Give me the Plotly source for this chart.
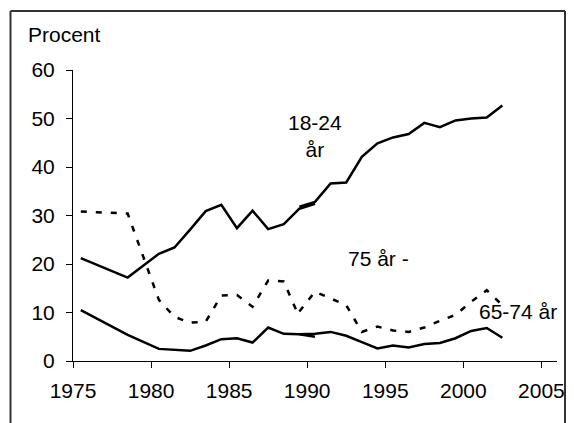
import plotly.graph_objects as go

# ---- data ----
years_old = [1975.5, 1978.5, 1980.5, 1981.5, 1982.5, 1983.5, 1984.5, 1985.5,
             1986.5, 1987.5, 1988.5, 1989.5, 1990.5]
years_new = [1989.5, 1990.5, 1991.5, 1992.5, 1993.5, 1994.5, 1995.5, 1996.5,
             1997.5, 1998.5, 1999.5, 2000.5, 2001.5, 2002.5]
years_old_75 = years_old[:-1]

age_18_24_old = [21.2, 17.2, 22.1, 23.4, 27.1, 30.9, 32.2, 27.4, 31.0, 27.2, 28.2, 31.4, 32.4]
age_18_24_new = [31.8, 32.8, 36.6, 36.8, 42.1, 44.9, 46.1, 46.8, 49.1, 48.2, 49.6, 50.0, 50.2, 52.7]

age_65_74_old = [10.5, 5.4, 2.5, 2.3, 2.1, 3.2, 4.5, 4.7, 3.8, 6.9, 5.6, 5.5, 5.0]
age_65_74_new = [5.5, 5.6, 6.0, 5.2, 3.9, 2.6, 3.2, 2.8, 3.5, 3.7, 4.7, 6.2, 6.8, 4.8]

age_75_old = [30.8, 30.4, 12.6, 9.1, 7.9, 8.1, 13.5, 13.6, 11.2, 16.6, 16.4, 9.0]
age_75_new = [10.2, 14.3, 12.9, 11.5, 6.0, 7.1, 6.3, 6.0, 6.9, 8.3, 9.5, 12.2, 14.6, 11.5]

x_ticks = [1975, 1980, 1985, 1990, 1995, 2000, 2005]
y_ticks = [0, 10, 20, 30, 40, 50, 60]

FONT = "Liberation Sans, Arial, sans-serif"
W, H = 574, 423

fig = go.Figure()
solid = dict(color="black", width=2.5)
dashed = dict(color="black", width=2.5, dash="6px,9px")

fig.add_trace(go.Scatter(x=years_old, y=age_18_24_old, mode="lines", line=solid))
fig.add_trace(go.Scatter(x=years_new, y=age_18_24_new, mode="lines", line=solid))
fig.add_trace(go.Scatter(x=years_old, y=age_65_74_old, mode="lines", line=solid))
fig.add_trace(go.Scatter(x=years_new, y=age_65_74_new, mode="lines", line=solid))
fig.add_trace(go.Scatter(x=years_old_75, y=age_75_old, mode="lines", line=dashed))
fig.add_trace(go.Scatter(x=years_new, y=age_75_new, mode="lines", line=dashed))

axis_common = dict(showgrid=False, zeroline=False, showline=True, linecolor="black",
                   linewidth=1, ticks="outside", ticklen=6, tickcolor="black",
                   automargin=False,
                   tickfont=dict(family=FONT, size=21, color="black"))

# page has an 8px body margin, so figure px = page px - 8
fig.update_xaxes(range=[1975, 2006], tickvals=x_ticks, ticktext=[str(v) for v in x_ticks],
                 domain=[65 / W, 549 / W], ticklabelstandoff=5, **axis_common)
fig.update_yaxes(range=[0, 60], tickvals=y_ticks, ticktext=[str(v) for v in y_ticks],
                 domain=[(H - 353) / H, (H - 62) / H], ticklabelstandoff=7, **axis_common)

text_font = dict(family=FONT, size=21, color="black")
fig.add_annotation(x=1990.5, y=46.4, text="18-24<br>år", showarrow=False,
                   font=text_font, xanchor="center", yanchor="middle")
fig.add_annotation(x=1994.55, y=21.2, text="75 år -", showarrow=False,
                   font=text_font, xanchor="center", yanchor="middle")
fig.add_annotation(x=2003.53, y=10.3, text="65-74 år", showarrow=False,
                   font=text_font, xanchor="center", yanchor="middle")
fig.add_annotation(x=18 / W, y=(H - 27) / H, xref="paper", yref="paper", text="Procent",
                   showarrow=False, font=text_font, xanchor="left", yanchor="middle")

# outer frame (four lines)
fx0, fx1 = 2.5 / W, 557 / W
fy0, fy1 = 0.0, (H - 3) / H
frame = dict(color="#333333", width=2)
for (a, b, c, d) in [(fx0, fy1, fx1, fy1), (fx0, fy0, fx0, fy1), (fx1, fy0, fx1, fy1)]:
    fig.add_shape(type="line", xref="paper", yref="paper", x0=a, y0=b, x1=c, y1=d,
                  line=frame, layer="above")

fig.update_layout(width=W, height=H, showlegend=False,
                  margin=dict(l=0, r=0, t=0, b=0, pad=0),
                  plot_bgcolor="white", paper_bgcolor="white",
                  font=dict(family=FONT, size=21, color="black"))

fig.write_html("out.html")
